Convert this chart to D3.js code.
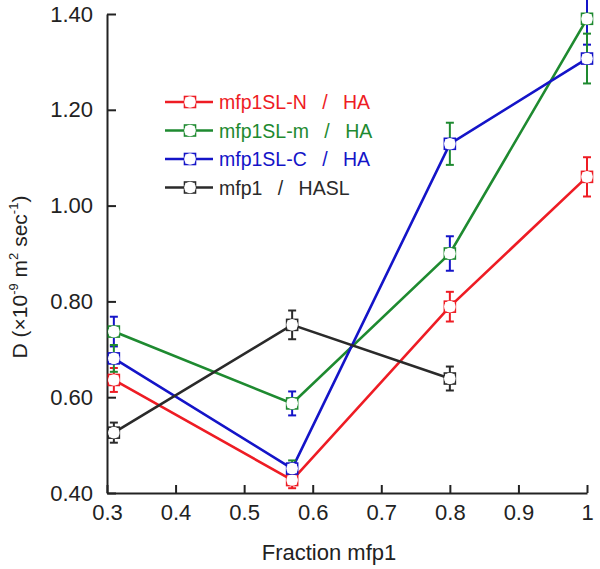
<!DOCTYPE html>
<html>
<head>
<meta charset="utf-8">
<script src="https://cdn.jsdelivr.net/npm/d3@7"></script>
<style>
  html, body { margin: 0; padding: 0; background: #fff; }
  svg { display: block; font-family: "Liberation Sans", Arial, sans-serif; }
</style>
</head>
<body>
<svg id="chart" width="600" height="569"></svg>
<script>
// ---- data ----
const xTicks = [0.3, 0.4, 0.5, 0.6, 0.7, 0.8, 0.9, 1.0];
const yTicks = [0.40, 0.60, 0.80, 1.00, 1.20, 1.40];
const fractions = [0.31, 0.57, 0.8, 1.0];
const fractionsHASL = [0.31, 0.57, 0.8];

const seriesNames = ["mfp1SL-N / HA", "mfp1SL-m / HA", "mfp1SL-C / HA", "mfp1 / HASL"];
const valuesN = [0.636, 0.427, 0.789, 1.060];
const errorsN = [0.025, 0.017, 0.031, 0.041];
const valuesM = [0.737, 0.587, 0.900, 1.390];
const errorsM = [0.031, 0.025, 0.036, 0.054];
const valuesC = [0.681, 0.451, 1.129, 1.307];
const errorsC = [0.028, 0.017, 0.044, 0.052];
const valuesHASL = [0.526, 0.751, 0.639];
const errorsHASL = [0.021, 0.030, 0.025];

const colors = ["#ee1c24", "#1e8a30", "#1414c8", "#2a2a2a"];
// error bar colours as drawn in the original (green/blue bars swapped)
const errColors = ["#ee1c24", "#1414c8", "#1e8a30", "#2a2a2a"];

const series = [
  {name: seriesNames[0], x: fractions, y: valuesN, e: errorsN},
  {name: seriesNames[1], x: fractions, y: valuesM, e: errorsM},
  {name: seriesNames[2], x: fractions, y: valuesC, e: errorsC},
  {name: seriesNames[3], x: fractionsHASL, y: valuesHASL, e: errorsHASL}
];

// ---- layout ----
const svg = d3.select("#chart");
const x = d3.scaleLinear().domain([0.3, 1.0]).range([107, 587]);
const y = d3.scaleLinear().domain([0.4, 1.4]).range([493, 14]);
const axisColor = "#222";

// axes
const gx = svg.append("g").attr("transform", `translate(0,${y(0.4)})`)
  .call(d3.axisBottom(x).tickValues(xTicks)
    .tickFormat(d => d === 1 ? "1" : d.toFixed(1))
    .tickSizeInner(-8).tickSizeOuter(0).tickPadding(11));
const gy = svg.append("g").attr("transform", `translate(${x(0.3)},0)`)
  .call(d3.axisLeft(y).tickValues(yTicks)
    .tickFormat(d3.format(".2f"))
    .tickSizeInner(-9).tickSizeOuter(0).tickPadding(14));
[gx, gy].forEach(g => {
  g.select(".domain").attr("stroke", axisColor).attr("stroke-width", 2);
  g.selectAll(".tick line").attr("stroke", axisColor).attr("stroke-width", 2);
  g.selectAll(".tick text").attr("fill", "#222").attr("font-size", 22)
    .attr("font-family", "'Liberation Sans', Arial, sans-serif");
});

// axis titles
svg.append("text").attr("x", 329).attr("y", 560).attr("text-anchor", "middle")
  .attr("font-size", 22).attr("fill", "#222").text("Fraction mfp1");

const yl = svg.append("text")
  .attr("transform", "translate(27,277) rotate(-90)")
  .attr("text-anchor", "middle").attr("font-size", 21).attr("fill", "#222");
yl.append("tspan").text("D (×10");
yl.append("tspan").attr("dy", -9).attr("font-size", 13).text("-9");
yl.append("tspan").attr("dy", 9).text(" m");
yl.append("tspan").attr("dy", -9).attr("font-size", 13).text("2");
yl.append("tspan").attr("dy", 9).text(" sec");
yl.append("tspan").attr("dy", -9).attr("font-size", 13).text("-1");
yl.append("tspan").attr("dy", 9).text(")");

// lines
const line = d3.line().x(d => x(d[0])).y(d => y(d[1]));
series.forEach((s, i) => {
  const pts = s.x.map((xv, j) => [xv, s.y[j]]);
  svg.append("path").datum(pts).attr("d", line)
    .attr("fill", "none").attr("stroke", colors[i]).attr("stroke-width", 2.6);
});

// error bars
series.forEach((s, i) => {
  const g = svg.append("g").attr("stroke", errColors[i]).attr("stroke-width", 2);
  s.x.forEach((xv, j) => {
    const cx = x(xv), y0 = y(s.y[j] - s.e[j]), y1 = y(s.y[j] + s.e[j]);
    g.append("line").attr("x1", cx).attr("x2", cx).attr("y1", y0).attr("y2", y1);
    g.append("line").attr("x1", cx - 4).attr("x2", cx + 4).attr("y1", y0).attr("y2", y0);
    g.append("line").attr("x1", cx - 4).attr("x2", cx + 4).attr("y1", y1).attr("y2", y1);
  });
});

// markers
function marker(g, cx, cy, col) {
  g.append("rect").attr("x", cx - 5.5).attr("y", cy - 5.5).attr("width", 11).attr("height", 11)
    .attr("fill", "#fff").attr("stroke", col).attr("stroke-width", 1.6);
  g.append("circle").attr("cx", cx).attr("cy", cy).attr("r", 5.8).attr("fill", "#fff");
}
series.forEach((s, i) => {
  const g = svg.append("g");
  s.x.forEach((xv, j) => marker(g, x(xv), y(s.y[j]), colors[i]));
});

// legend
const legY0 = 102, legDy = 28.5;
series.forEach((s, i) => {
  const ly = legY0 + i * legDy;
  const g = svg.append("g");
  g.append("line").attr("x1", 165).attr("x2", 213).attr("y1", ly).attr("y2", ly)
    .attr("stroke", colors[i]).attr("stroke-width", 2.4);
  marker(g, 190, ly, colors[i]);
  g.append("text").attr("x", 219).attr("y", ly + 7).attr("font-size", 19.5)
    .attr("fill", colors[i]).style("word-spacing", "10px").text(s.name);
});
</script>
</body>
</html>
